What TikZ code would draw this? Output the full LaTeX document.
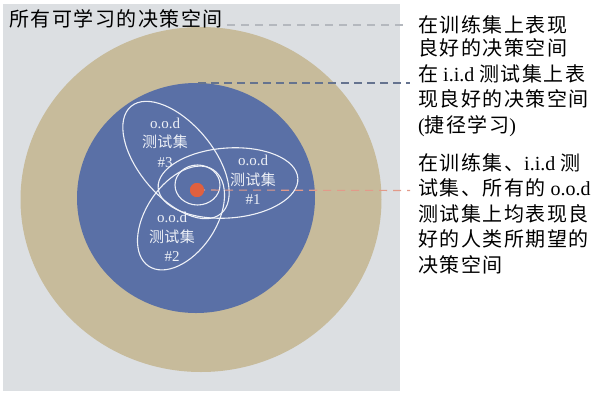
\documentclass[tikz,border=0pt]{standalone}
\usepackage{fontspec}
\setmainfont{Liberation Serif}
\newfontfamily\cjk[LetterSpace=7.5]{Noto Sans CJK SC}
\newfontfamily\cjkin[LetterSpace=2]{Noto Sans CJK SC}
\definecolor{bgc}{HTML}{DCDFE2}
\definecolor{beige}{HTML}{C7BB9B}
\definecolor{bluec}{HTML}{5A70A6}
\definecolor{dotred}{HTML}{E0603F}
\definecolor{l1c}{HTML}{B4B8BE}
\definecolor{l2c}{HTML}{65738F}
\definecolor{l3c}{HTML}{E29A8A}
\definecolor{wc}{HTML}{EEF1F7}
\tikzset{
  outtext/.style={anchor=west, align=left, inner sep=0pt, text=black, font=\fontsize{20}{25.5}\selectfont},
  intext/.style={align=center, inner sep=0pt, text=wc, font=\fontsize{15}{19.5}\selectfont},
  oodline/.style={draw=wc, line width=1.1pt},
  conn/.style={line width=1.3pt, dash pattern=on 8pt off 6pt}
}
\begin{document}
\begin{tikzpicture}[x=1pt,y=-1pt]
\useasboundingbox (0,0) rectangle (598,392);
% background
\fill[bgc] (3,4) rectangle (400,391);
\fill[beige] (201,199.5) ellipse [x radius=180.5, y radius=172.5];
\fill[bluec] (196,198) ellipse [x radius=119, y radius=115];
% o.o.d ellipses
\draw[oodline, rotate around={4:(228,183)}] (228,183) ellipse [x radius=70, y radius=35];
\draw[oodline, rotate around={56:(181,218)}] (181,218) ellipse [x radius=58, y radius=35];
\draw[oodline, rotate around={-50:(176,160)}] (176,160) ellipse [x radius=70, y radius=37];
\draw[oodline] (197.5,185) ellipse [x radius=22.5, y radius=20];
% red dot
\node[circle, fill=dotred, minimum size=14pt, inner sep=0pt] (dot) at (197,190) {};
% labels in ellipses
\node[intext] (ood3) at (165,142.5) {o.o.d\\{\cjkin 测试集}\\\#3};
\node[intext] (ood1) at (253,180) {o.o.d\\{\cjkin 测试集}\\\#1};
\node[intext] (ood2) at (172,237) {o.o.d\\{\cjkin 测试集}\\\#2};
% title
\node[anchor=west, inner sep=0pt, font=\fontsize{20}{24}\selectfont] (title) at (9,18.5) {\cjk 所有可学习的决策空间};
% right texts
\node[outtext, font=\fontsize{20}{23}\selectfont] (t1) at (418,36.5) {{\cjk 在训练集上表现}\\{\cjk 良好的决策空间}};
\node[outtext] (t2) at (418,100.5) {{\cjk 在} i.i.d {\cjk 测试集上表}\\{\cjk 现良好的决策空间}\\({\cjk 捷径学习})};
\node[outtext] (t3) at (418,213.5) {{\cjk 在训练集、}i.i.d {\cjk 测}\\{\cjk 试集、所有的} o.o.d\\{\cjk 测试集上均表现良}\\{\cjk 好的人类所期望的}\\{\cjk 决策空间}};
% connectors
\coordinate (s1) at (227,25);
\coordinate (e1) at (407,25);
\coordinate (s2) at (198,83);
\coordinate (e2) at (410,83);
\coordinate (e3) at (410,190.5);
\draw[conn, l1c, line width=1.1pt] (s1) -- (e1);
\draw[conn, l2c, dash pattern=on 8pt off 5pt] (s2) -- (e2);
\draw[conn, l3c, line width=1.1pt] (dot.center) -- (e3);
\fill[dotred] (dot.center) circle (7);
\end{tikzpicture}
\end{document}
